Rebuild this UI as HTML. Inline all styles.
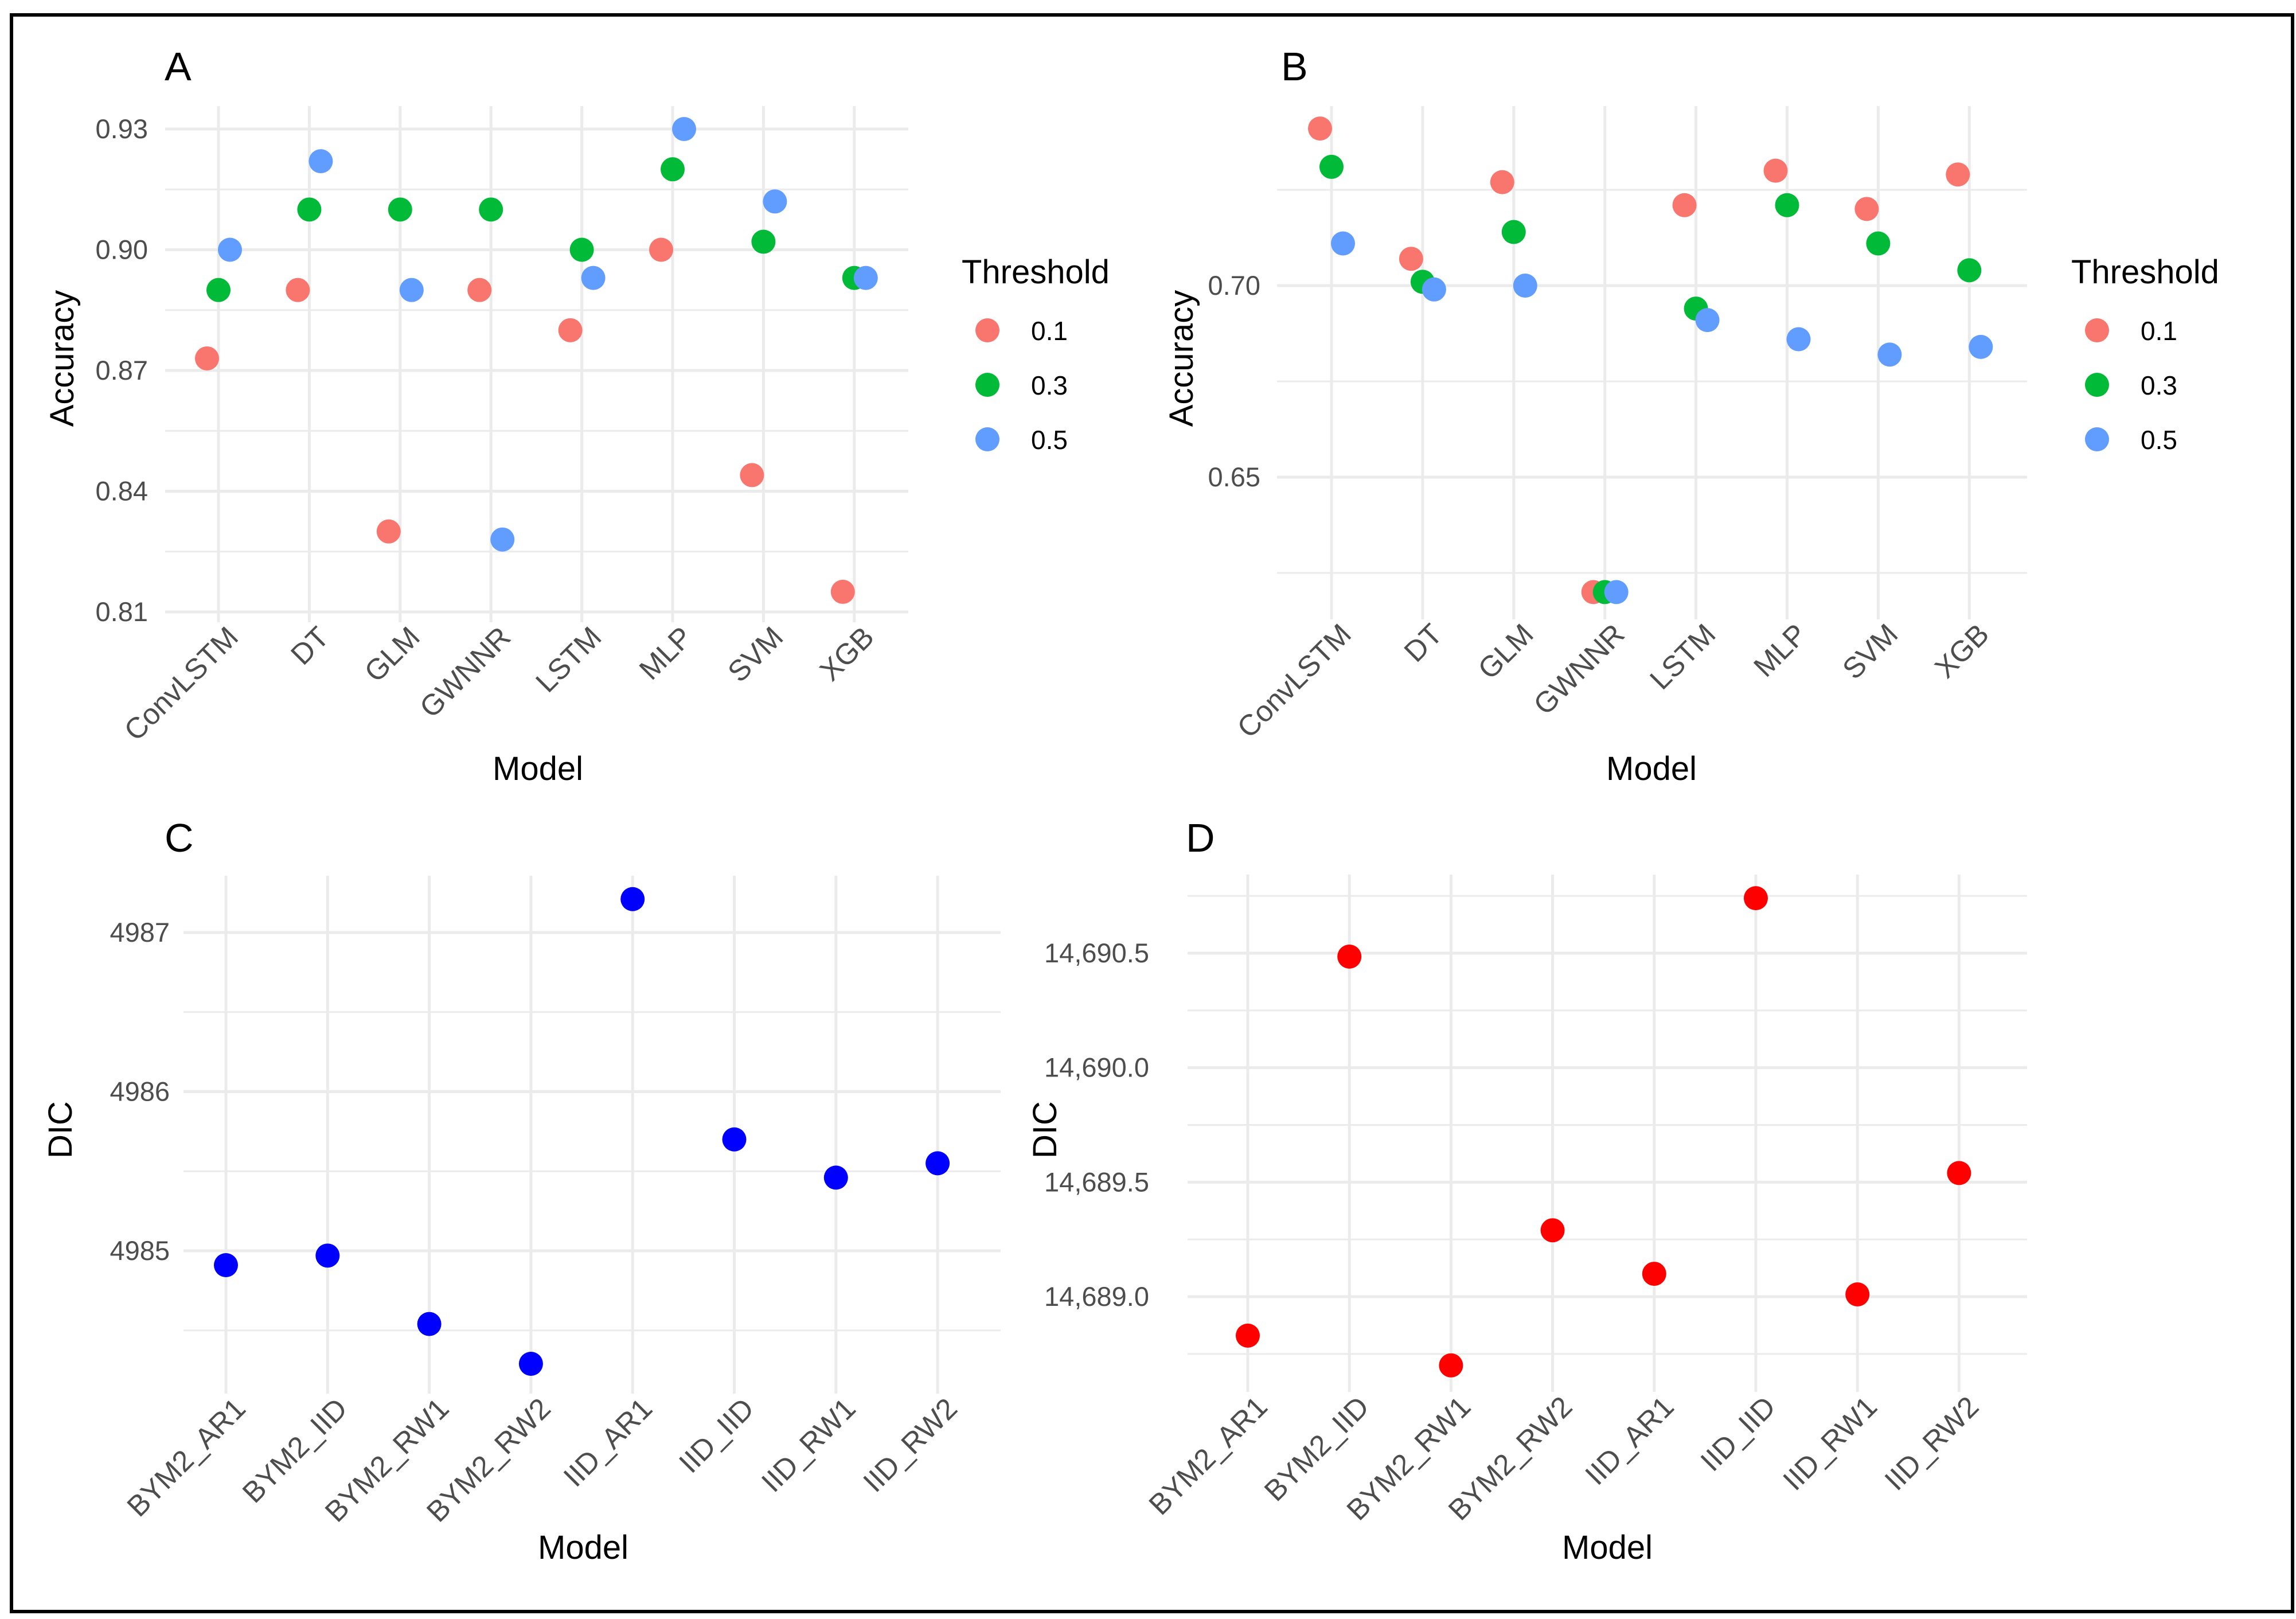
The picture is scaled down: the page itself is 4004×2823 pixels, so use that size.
<!DOCTYPE html>
<html><head><meta charset="utf-8"><style>
html,body{margin:0;padding:0;background:#fff;}
svg{display:block;font-family:"Liberation Sans",Arial,sans-serif;}
</style></head><body>
<svg id="fig" width="4004" height="2823" viewBox="0 0 4004 2823" xmlns="http://www.w3.org/2000/svg">
<rect x="0" y="0" width="4004" height="2823" fill="#fff"/>
<rect x="20" y="26" width="3978" height="2784" fill="none" stroke="#000" stroke-width="6"/>
</svg>
<script>
// ---- data ----
const modelsAB = ["ConvLSTM","DT","GLM","GWNNR","LSTM","MLP","SVM","XGB"];
const thresholds = ["0.1","0.3","0.5"];
const accA_01 = [0.873,0.890,0.830,0.890,0.880,0.900,0.844,0.815];
const accA_03 = [0.890,0.910,0.910,0.910,0.900,0.920,0.902,0.893];
const accA_05 = [0.900,0.922,0.890,0.828,0.893,0.930,0.912,0.893];
const accB_01 = [0.741,0.707,0.727,0.620,0.721,0.730,0.720,0.729];
const accB_03 = [0.731,0.701,0.714,0.620,0.694,0.721,0.711,0.704];
const accB_05 = [0.711,0.699,0.700,0.620,0.691,0.686,0.682,0.684];
const ticksA = [0.81,0.84,0.87,0.90,0.93];
const tickLabelsA = ["0.81","0.84","0.87","0.90","0.93"];
const ticksB = [0.65,0.70];
const tickLabelsB = ["0.65","0.70"];
const modelsCD = ["BYM2_AR1","BYM2_IID","BYM2_RW1","BYM2_RW2","IID_AR1","IID_IID","IID_RW1","IID_RW2"];
const dicC = [4984.91,4984.97,4984.54,4984.29,4987.21,4985.70,4985.46,4985.55];
const ticksC = [4985,4986,4987];
const tickLabelsC = ["4985","4986","4987"];
const dicD = [14688.83,14690.485,14688.70,14689.29,14689.10,14690.74,14689.01,14689.54];
const ticksD = [14689.0,14689.5,14690.0,14690.5];
const tickLabelsD = ["14,689.0","14,689.5","14,690.0","14,690.5"];

const svg = document.getElementById('fig');
const NS = "http://www.w3.org/2000/svg";
function mk(tag, attrs, parent){
  const e = document.createElementNS(NS, tag);
  for (const k in attrs) e.setAttribute(k, attrs[k]);
  (parent||svg).appendChild(e);
  return e;
}
const cols = ["#F8766D","#00BA38","#619CFF"];

function panel(o){
  const g = mk('g',{});
  
  
  const y = v => o.y0px + (v - o.v0) * (o.y1px - o.y0px) / (o.v1 - o.v0);
  const x = i => o.x0 + i * o.dx;
  const step = o.ticks[1] - o.ticks[0];
  for (let i = -3; i < o.ticks.length + 3; i++) {
    const v = o.ticks[0] + (i - 0.5) * step;
    const py = y(v);
    if (py < o.top || py > o.bottom) continue;
    const l = mk('line',{x1:o.left,x2:o.right,y1:py,y2:py,stroke:"#ebebeb","stroke-width":3},g);
    
    
  }
  o.ticks.forEach((v,i)=>{
    const py = y(v);
    const l = mk('line',{x1:o.left,x2:o.right,y1:py,y2:py,stroke:"#ebebeb","stroke-width":5},g);
    
    
    const t = mk('text',{x:o.tickX,y:py+16,"text-anchor":"end","font-size":47,fill:"#4d4d4d"},g);
    t.textContent = o.tickLabels[i];
    
    
  });
  o.cats.forEach((c,i)=>{
    const px = x(i);
    const l = mk('line',{x1:px,x2:px,y1:o.top,y2:o.bottom,stroke:"#ebebeb","stroke-width":5},g);
    
    
    const tx = px + 12, ty = o.bottom + 4;
    const t = mk('text',{x:tx,y:ty,"text-anchor":"end","font-size":51,fill:"#4d4d4d",transform:`rotate(-45 ${tx} ${ty})`,dy:"0.7em"},g);
    t.textContent = c;
    
    
  });
  o.series.forEach((s,si)=>{
    s.vals.forEach((v,i)=>{
      const c = mk('circle',{cx:x(i)+s.off,cy:y(v),r:21,fill:s.color},g);
      
      
    });
  });
  const yt = mk('text',{x:o.ytX,y:o.ytY,"text-anchor":"middle","font-size":58,fill:"#000",transform:`rotate(-90 ${o.ytX} ${o.ytY})`},g);
  yt.textContent = o.ytitle;
  
  
  const xt = mk('text',{x:o.xtX,y:o.xtY,"text-anchor":"middle","font-size":58,fill:"#000"},g);
  xt.textContent = "Model";
  
  
  const lt = mk('text',{x:o.letX,y:o.letY,"font-size":70,fill:"#000"},g);
  lt.textContent = o.letter;
  
  
  if (o.legX) {
    const lg = mk('g',{},g);
    
    
    const h = mk('text',{x:o.legX,y:494,"font-size":58,fill:"#000"},lg);
    h.textContent = "Threshold";
    
    
    thresholds.forEach((th,i)=>{
      const cy = 576 + i*95;
      const c = mk('circle',{cx:o.legX+45,cy:cy,r:21,fill:cols[i]},lg);
      
      
      const t = mk('text',{x:o.legX+121,y:cy+17,"font-size":46,fill:"#000"},lg);
      t.textContent = th;
      
      
    });
  }
}

panel({name:"panel-a",letter:"A",letX:287,letY:140,cats:modelsAB,x0:381,dx:158.4,left:288,right:1584,top:185,bottom:1085,
  v0:0.93,v1:0.81,y0px:225,y1px:1067,ticks:ticksA,tickLabels:tickLabelsA,tickX:258,
  series:[{key:"0.1",vals:accA_01,color:cols[0],off:-20},{key:"0.3",vals:accA_03,color:cols[1],off:0},{key:"0.5",vals:accA_05,color:cols[2],off:20}],
  ytitle:"Accuracy",ytX:128,ytY:625,xtX:938,xtY:1360,legX:1677});
panel({name:"panel-b",letter:"B",letX:2234,letY:140,cats:modelsAB,x0:2322,dx:158.9,left:2227,right:3535,top:185,bottom:1080,
  v0:0.70,v1:0.65,y0px:498,y1px:832,ticks:ticksB,tickLabels:tickLabelsB,tickX:2198,
  series:[{key:"0.1",vals:accB_01,color:cols[0],off:-20},{key:"0.3",vals:accB_03,color:cols[1],off:0},{key:"0.5",vals:accB_05,color:cols[2],off:20}],
  ytitle:"Accuracy",ytX:2080,ytY:625,xtX:2880,xtY:1360,legX:3612});
panel({name:"panel-c",letter:"C",letX:287,letY:1485,cats:modelsCD,x0:394,dx:177.3,left:320,right:1745,top:1527,bottom:2430,
  v0:4987,v1:4985,y0px:1626,y1px:2181,ticks:ticksC,tickLabels:tickLabelsC,tickX:296,
  series:[{key:"dic",vals:dicC,color:"#0000ff",off:0}],
  ytitle:"DIC",ytX:125,ytY:1970,xtX:1017,xtY:2718});
panel({name:"panel-d",letter:"D",letX:2068,letY:1485,cats:modelsCD,x0:2176,dx:177.2,left:2071,right:3535,top:1525,bottom:2427,
  v0:14690.5,v1:14689.0,y0px:1662,y1px:2261,ticks:ticksD,tickLabels:tickLabelsD,tickX:2004,
  series:[{key:"dic",vals:dicD,color:"#ff0000",off:0}],
  ytitle:"DIC",ytX:1842,ytY:1970,xtX:2803,xtY:2718});
</script>
</body></html>
